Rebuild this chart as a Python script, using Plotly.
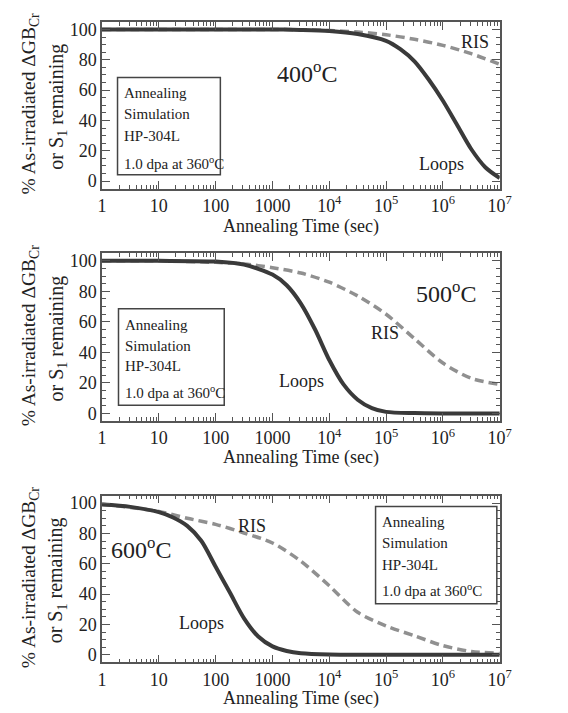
import plotly.graph_objects as go

# ---------------- data ----------------
# Annealing time in seconds
t_400_loops = [1, 10, 100, 1000, 3162, 1e4, 3.16e4, 1e5, 1.78e5, 3.16e5, 5.62e5, 1e6, 1.78e6, 3.16e6, 5.62e6, 1e7]
v_400_loops = [100, 100, 100, 100, 99.7, 99, 97, 92.5, 87, 79, 67, 53, 37, 21, 9, 2]
t_400_ris = [1, 10, 100, 1000, 3162, 1e4, 3.16e4, 1e5, 3.16e5, 1e6, 3.16e6, 1e7]
v_400_ris = [100, 100, 100, 100, 99.8, 99.3, 98.3, 96.5, 93.5, 89.5, 84, 77]

t_500_loops = [1, 10, 100, 316, 1000, 1778, 3162, 5623, 1e4, 1.78e4, 3.16e4, 5.62e4, 1e5, 3.16e5, 1e6, 1e7]
v_500_loops = [100, 100, 99.5, 97.5, 91, 84, 72, 55, 35, 19, 9, 3.5, 1, 0.2, 0, 0]
t_500_ris = [1, 10, 100, 316, 1000, 3162, 1e4, 3.16e4, 1e5, 3.16e5, 1e6, 3.16e6, 1e7]
v_500_ris = [100, 100, 99, 98, 95.5, 92, 86, 77, 65, 49, 33, 23, 19]

t_600_loops = [1, 3.16, 10, 17.8, 31.6, 56.2, 100, 178, 316, 562, 1000, 1778, 3162, 1e4, 1e5, 1e6, 1e7]
v_600_loops = [99, 97.5, 94, 90.5, 85, 75, 58, 41, 24, 12, 5.5, 2.5, 1, 0.2, 0, 0, 0]
t_600_ris = [1, 10, 31.6, 100, 316, 1000, 3162, 1e4, 3.16e4, 1e5, 3.16e5, 1e6, 3.16e6, 1e7]
v_600_ris = [99.3, 94.5, 90, 86, 80.3, 73.7, 61.7, 45.5, 28, 19, 12.5, 6, 2.2, 0.9]

x_tickvals = [1, 10, 100, 1000, 1e4, 1e5, 1e6, 1e7]
x_ticktext = ["1", "10", "100", "1000", "10<sup>4</sup>", "10<sup>5</sup>", "10<sup>6</sup>", "10<sup>7</sup>"]
x_minor = [m * 10 ** k for k in range(7) for m in range(2, 10)]
y_tickvals = [0, 20, 40, 60, 80, 100]

panels = [
    dict(loops=(t_400_loops, v_400_loops), ris=(t_400_ris, v_400_ris), temp="400"),
    dict(loops=(t_500_loops, v_500_loops), ris=(t_500_ris, v_500_ris), temp="500"),
    dict(loops=(t_600_loops, v_600_loops), ris=(t_600_ris, v_600_ris), temp="600"),
]

# ---------------- layout geometry (pixels) ----------------
W, H = 568, 713
FONT = "Liberation Serif, Times New Roman, serif"
plot_left, plot_right = 100, 510
panel_px = [(20, 188), (253, 422), (497, 665)]  # top, bottom of each plot area


def py(y):
    return 1 - y / H


def px(x):
    return x / W


fig = go.Figure()
axis_col = "#555555"
loops_col = "#3a3a3a"
ris_col = "#909090"

for i, p in enumerate(panels):
    n = "" if i == 0 else str(i + 1)
    xa, ya = "x" + n, "y" + n
    fig.add_trace(go.Scatter(x=p["ris"][0], y=p["ris"][1], mode="lines", xaxis=xa, yaxis=ya,
                             line=dict(color=ris_col, width=3.5, dash="9px,5px", shape="spline", smoothing=0.8),
                             showlegend=False, hoverinfo="skip"))
    fig.add_trace(go.Scatter(x=p["loops"][0], y=p["loops"][1], mode="lines", xaxis=xa, yaxis=ya,
                             line=dict(color=loops_col, width=4, shape="spline", smoothing=0.8),
                             showlegend=False, hoverinfo="skip"))
    top, bot = panel_px[i]
    xkey = "xaxis" + n
    ykey = "yaxis" + n
    fig.update_layout({
        xkey: dict(type="log", range=[0, 7], domain=[px(plot_left), px(plot_right)], anchor=ya,
                   tickmode="array", tickvals=x_tickvals, ticktext=x_ticktext,
                   ticks="inside", ticklen=8, tickwidth=1.2, tickcolor=axis_col,
                   showline=True, linecolor=axis_col, linewidth=1.5, mirror="ticks",
                   showgrid=False, zeroline=False,
                   minor=dict(tickmode="array", tickvals=x_minor, ticks="inside", ticklen=4,
                              tickwidth=1, tickcolor=axis_col, showgrid=False),
                   tickfont=dict(family=FONT, size=18, color="#222")),
        ykey: dict(range=[-5, 105], domain=[py(bot), py(top)], anchor=xa,
                   tickmode="array", tickvals=y_tickvals,
                   ticks="inside", ticklen=8, tickwidth=1.2, tickcolor=axis_col,
                   showline=True, linecolor=axis_col, linewidth=1.5, mirror="ticks",
                   showgrid=False, zeroline=False,
                   minor=dict(dtick=5, ticks="inside", ticklen=4, tickwidth=1, tickcolor=axis_col, showgrid=False),
                   tickfont=dict(family=FONT, size=18, color="#222")),
    })

annotations = []


def ann(x, y, text, size, **kw):
    d = dict(x=px(x), y=py(y), xref="paper", yref="paper", text=text, showarrow=False,
             font=dict(family=FONT, size=size, color="#222"), xanchor="center", yanchor="middle")
    d.update(kw)
    annotations.append(d)


# axis titles
for (top, bot), xt in zip(panel_px, [226, 459, 701]):
    c = (top + bot) / 2
    ann(26, c - 2, "% As-irradiated ΔGB<sub>Cr</sub>", 19.5, textangle=-90)
    ann(54, c + 1, "or S<sub>1</sub> remaining", 20, textangle=-90)
    ann(305, xt, "Annealing Time (sec)", 18)

# temperature labels
ann(311, 70, "400<sup>o</sup>C", 24)
ann(455, 292, "500<sup>o</sup>C", 24)
ann(140, 550, "600<sup>o</sup>C", 24)

# curve labels
ann(485, 40, "RIS", 18)
ann(450, 163, "Loops", 18)
ann(392, 333, "RIS", 18)
ann(306, 382, "Loops", 18)
ann(255, 528, "RIS", 18)
ann(203, 625, "Loops", 18)

# info boxes
boxes = [
    dict(l=116, r=222, t=76, b=174, lines=[92, 113, 135, 162]),
    dict(l=117, r=226, t=309, b=406, lines=[325, 346, 367, 393]),
    dict(l=382, r=507, t=508, b=606, lines=[524, 545, 567, 592]),
]
box_text = ["Annealing", "Simulation", "HP-304L", "1.0 dpa at 360<sup>o</sup>C"]
shapes = []
for b in boxes:
    shapes.append(dict(type="rect", xref="paper", yref="paper", x0=px(b["l"]), x1=px(b["r"]),
                       y0=py(b["b"]), y1=py(b["t"]), line=dict(color="#444", width=1.5), fillcolor="white"))
    for txt, yy in zip(box_text, b["lines"]):
        ann(b["l"] + 5, yy, txt, 15, xanchor="left")

fig.update_layout(width=W, height=H, margin=dict(l=0, r=0, t=0, b=0),
                  paper_bgcolor="white", plot_bgcolor="white",
                  annotations=annotations, shapes=shapes,
                  font=dict(family=FONT, size=18, color="#222"))

fig.write_html("out.html")
